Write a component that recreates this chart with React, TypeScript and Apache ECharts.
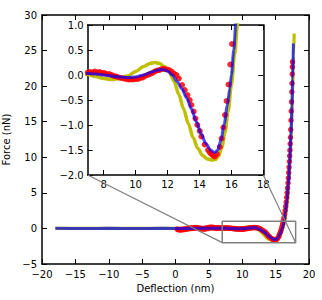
import React, { useEffect, useRef } from "react";
import * as echarts from "echarts";

// ---- data (x = deflection nm, y = force nN) ----
const fitBlue: number[][] = [
  [-18, 0.02], [-14, 0.0], [-10, 0.01], [-6, 0.0], [-2, 0.01], [2, 0.0], [5, 0.02], [7, 0.03],
  [7.5, 0.02], [8, 0.0], [8.5, -0.02], [9, -0.04], [9.5, -0.05], [10, -0.04], [10.5, 0.0],
  [11, 0.06], [11.4, 0.1], [11.7, 0.11], [12, 0.08], [12.3, 0.0], [12.6, -0.13], [12.9, -0.28],
  [13.2, -0.46], [13.5, -0.68], [13.8, -0.93], [14.1, -1.17], [14.4, -1.37], [14.7, -1.5],
  [14.95, -1.55], [15.15, -1.5], [15.35, -1.3], [15.55, -0.98], [15.75, -0.6], [15.9, -0.27],
  [16.0, 0.0], [16.15, 0.5], [16.28, 1.05], [16.45, 2.1], [16.7, 4.0], [16.9, 6.2], [17.1, 9.3],
  [17.3, 13.2], [17.45, 17.2], [17.55, 21.0], [17.66, 26.0],
];

const fitYellow: number[][] = [
  [-18, 0.02], [-14, 0.0], [-10, 0.01], [-6, 0.0], [-2, 0.01], [2, 0.0], [5, 0.0], [6, 0.01],
  [7, 0.01], [7.5, -0.03], [8, -0.07], [8.5, -0.09],
  [9, -0.07], [9.5, -0.02], [10, 0.07], [10.5, 0.17], [10.9, 0.23], [11.2, 0.25], [11.5, 0.23],
  [11.8, 0.17], [12.1, 0.07], [12.4, -0.12], [12.7, -0.38], [13.0, -0.67], [13.3, -0.97],
  [13.6, -1.25], [13.9, -1.47], [14.2, -1.61], [14.5, -1.68], [14.8, -1.7], [15.0, -1.69],
  [15.2, -1.62], [15.4, -1.45], [15.6, -1.15], [15.8, -0.72], [16.0, -0.2], [16.2, 0.4],
  [16.38, 1.0], [16.55, 1.9], [16.75, 3.7], [17.0, 6.9], [17.2, 10.4], [17.4, 15.0],
  [17.55, 19.6], [17.68, 24.3], [17.78, 27.4],
];

const measured: number[][] = [
  [0.25, -0.1], [0.4, -0.18], [0.55, -0.15], [0.7, -0.22], [0.85, -0.12], [1.0, -0.2], [1.15, -0.1],
  [1.3, -0.16], [1.45, -0.05], [1.6, -0.12], [1.75, 0.02], [1.9, -0.06], [2.05, 0.05], [2.2, -0.02],
  [2.35, 0.08], [2.5, 0.0], [2.65, 0.1], [2.8, 0.03], [2.95, 0.12], [3.1, 0.05], [3.25, 0.1],
  [3.4, 0.0], [3.55, 0.06], [3.7, -0.05], [3.85, 0.02], [4.0, -0.08], [4.15, 0.0], [4.3, -0.1],
  [4.45, 0.05], [4.6, -0.06], [4.75, 0.1], [4.9, 0.0], [5.05, 0.15], [5.2, 0.05], [5.35, 0.18],
  [5.5, 0.08], [5.65, 0.15], [5.8, 0.05], [5.95, 0.1], [6.1, 0.0], [6.25, 0.08], [6.4, 0.02],
  [6.55, 0.1], [6.7, 0.04], [6.85, 0.08], [7.0, 0.05],
  [7.15, 0.06], [7.3, 0.05], [7.45, 0.07], [7.6, 0.05], [7.75, 0.06], [7.9, 0.04], [8.05, 0.04],
  [8.2, 0.02], [8.35, 0.02], [8.5, 0.0], [8.65, -0.02], [8.8, -0.03], [8.95, -0.05], [9.1, -0.06],
  [9.25, -0.07], [9.4, -0.08], [9.55, -0.09], [9.7, -0.09], [9.85, -0.09], [10.0, -0.08],
  [10.15, -0.08], [10.3, -0.06], [10.45, -0.05], [10.6, -0.02], [10.75, 0.0], [10.9, 0.02],
  [11.05, 0.04], [11.2, 0.07], [11.35, 0.09], [11.5, 0.1], [11.65, 0.12], [11.8, 0.12],
  [11.95, 0.11], [12.1, 0.1], [12.25, 0.07], [12.4, 0.03],
  [12.56, 0.0], [12.71, -0.07], [12.91, -0.2], [13.08, -0.3], [13.25, -0.4], [13.39, -0.5],
  [13.5, -0.6], [13.64, -0.73], [13.75, -0.87], [13.87, -1.0], [14.02, -1.12], [14.12, -1.23],
  [14.33, -1.39], [14.54, -1.5], [14.65, -1.55], [14.75, -1.58], [14.85, -1.61], [14.96, -1.63],
  [15.1, -1.58], [15.27, -1.44], [15.39, -1.27], [15.5, -1.05], [15.6, -0.8], [15.7, -0.52],
  [15.82, -0.19], [15.93, 0.21], [16.04, 0.62],
  [16.14, 1.05], [16.24, 1.5], [16.33, 2.0], [16.42, 2.55], [16.5, 3.1], [16.58, 3.7],
  [16.65, 4.35], [16.72, 5.0], [16.79, 5.7], [16.85, 6.4], [16.91, 7.1], [16.96, 7.85],
  [17.01, 8.6], [17.06, 9.4], [17.1, 10.2], [17.14, 11.0], [17.18, 11.9], [17.22, 12.8],
  [17.26, 13.9], [17.3, 15.2], [17.34, 16.5], [17.38, 17.8], [17.42, 19.2], [17.45, 20.4],
  [17.48, 21.7], [17.5, 22.7], [17.53, 23.4],
];

// zoom window (main-plot coordinates shown in the inset)
const zoomX: number[] = [7, 18];
const zoomY: number[] = [-2, 1];
const insetXTicks: number[] = [8, 10, 12, 14, 16, 18];

const FONT = "DejaVu Sans";
const minus = (s: string) => s.replace("-", "\u2212");

export default function App() {
  const ref = useRef<HTMLDivElement>(null);
  useEffect(() => {
    if (!ref.current) return;
    const chart = echarts.init(ref.current, null, { renderer: "svg" });
    const tick = { show: true, inside: true, length: 5, lineStyle: { color: "#000", width: 1 } };
    const frame = { show: true, onZero: false, lineStyle: { color: "#000", width: 1.5 } };
    const lbl = { color: "#000", fontFamily: FONT, fontSize: 10 };
    const rectData = [
      [zoomX[0], zoomY[0]], [zoomX[1], zoomY[0]], [zoomX[1], zoomY[1]],
      [zoomX[0], zoomY[1]], [zoomX[0], zoomY[0]],
    ];
    const option: any = {
      animation: false,
      textStyle: { fontFamily: FONT },
      grid: [
        { left: 42, top: 15, width: 267, height: 249, containLabel: false, outerBoundsMode: "none" },
        {
          left: 87.7, top: 25, width: 175.6, height: 150, containLabel: false, outerBoundsMode: "none",
          show: true, backgroundColor: "#fff", borderWidth: 0, z: 5,
        },
      ],
      xAxis: [
        {
          type: "value", gridIndex: 0, min: -20, max: 20, interval: 5, position: "bottom",
          axisLine: frame, axisTick: tick, splitLine: { show: false },
          axisLabel: { ...lbl, margin: 5, formatter: (v: number) => minus(String(v)) },
          name: "Deflection (nm)", nameLocation: "middle", nameGap: 18,
          nameTextStyle: { color: "#000", fontFamily: FONT, fontSize: 10 },
        },
        {
          type: "value", gridIndex: 0, min: -20, max: 20, interval: 5, position: "top",
          axisLine: frame, axisTick: tick, splitLine: { show: false }, axisLabel: { show: false },
        },
        {
          type: "value", gridIndex: 1, min: zoomX[0], max: zoomX[1], position: "bottom", z: 6,
          axisLine: frame, axisTick: { ...tick, customValues: insetXTicks }, splitLine: { show: false },
          axisLabel: { ...lbl, margin: 4, customValues: insetXTicks, formatter: (v: number) => String(v) },
        },
        {
          type: "value", gridIndex: 1, min: zoomX[0], max: zoomX[1], position: "top", z: 6,
          axisLine: frame, axisTick: { ...tick, customValues: insetXTicks }, splitLine: { show: false },
          axisLabel: { show: false, customValues: insetXTicks },
        },
      ],
      yAxis: [
        {
          type: "value", gridIndex: 0, min: -5, max: 30, interval: 5, position: "left",
          axisLine: frame, axisTick: tick, splitLine: { show: false },
          axisLabel: { ...lbl, margin: 5, formatter: (v: number) => minus(String(v)) },
          name: "Force (nN)", nameLocation: "middle", nameGap: 21, nameRotate: 90,
          nameTextStyle: { color: "#000", fontFamily: FONT, fontSize: 10 },
        },
        {
          type: "value", gridIndex: 0, min: -5, max: 30, interval: 5, position: "right",
          axisLine: frame, axisTick: tick, splitLine: { show: false }, axisLabel: { show: false },
        },
        {
          type: "value", gridIndex: 1, min: zoomY[0], max: zoomY[1], interval: 0.5, position: "left", z: 6,
          axisLine: frame, axisTick: tick, splitLine: { show: false },
          axisLabel: { ...lbl, margin: 4, formatter: (v: number) => minus(v.toFixed(1)) },
        },
        {
          type: "value", gridIndex: 1, min: zoomY[0], max: zoomY[1], interval: 0.5, position: "right", z: 6,
          axisLine: frame, axisTick: tick, splitLine: { show: false }, axisLabel: { show: false },
        },
      ],
      series: [
        // main plot
        {
          type: "line", xAxisIndex: 0, yAxisIndex: 0, data: fitYellow, showSymbol: false, z: 2,
          smooth: 0.3, smoothMonotone: "x",
          lineStyle: { color: "#bfbf00", width: 3.2 },
        },
        {
          type: "scatter", xAxisIndex: 0, yAxisIndex: 0, data: measured, symbolSize: 5.5, z: 3,
          itemStyle: { color: "#ff0000", opacity: 0.85 },
        },
        {
          type: "line", xAxisIndex: 0, yAxisIndex: 0, data: fitBlue, showSymbol: false, z: 4,
          smooth: 0.3, smoothMonotone: "x",
          lineStyle: { color: "#0000ff", width: 3, opacity: 0.7 },
        },
        {
          type: "line", xAxisIndex: 0, yAxisIndex: 0, data: rectData, showSymbol: false, z: 5,
          lineStyle: { color: "#808080", width: 1.5 },
        },
        // inset
        {
          type: "line", xAxisIndex: 2, yAxisIndex: 2, data: fitYellow, showSymbol: false, z: 7,
          smooth: 0.3, smoothMonotone: "x", clip: true,
          lineStyle: { color: "#bfbf00", width: 3.5 },
        },
        {
          type: "scatter", xAxisIndex: 2, yAxisIndex: 2, data: measured, symbolSize: 6, z: 8, clip: true,
          itemStyle: { color: "#ff0000", opacity: 0.85 },
        },
        {
          type: "line", xAxisIndex: 2, yAxisIndex: 2, data: fitBlue, showSymbol: false, z: 9,
          smooth: 0.3, smoothMonotone: "x", clip: true,
          lineStyle: { color: "#0000ff", width: 3, opacity: 0.7 },
        },
      ],
    };
    chart.setOption(option);

    const ins = { xAxisIndex: 2, yAxisIndex: 2 } as any;
    const mn = { xAxisIndex: 0, yAxisIndex: 0 } as any;
    const a1 = chart.convertToPixel(ins, [zoomX[0], zoomY[0]]) as number[];
    const b1 = chart.convertToPixel(mn, [zoomX[0], zoomY[0]]) as number[];
    const a2 = chart.convertToPixel(ins, [zoomX[1], zoomY[0]]) as number[];
    const b2 = chart.convertToPixel(mn, [zoomX[1], zoomY[0]]) as number[];
    if (a1 && b1 && a2 && b2) {
      chart.setOption({
        graphic: [
          {
            type: "line", z: 100, silent: true,
            shape: { x1: a1[0], y1: a1[1], x2: b1[0], y2: b1[1] },
            style: { stroke: "#808080", lineWidth: 1.2 },
          },
          {
            type: "line", z: 100, silent: true,
            shape: { x1: a2[0], y1: a2[1], x2: b2[0], y2: b2[1] },
            style: { stroke: "#808080", lineWidth: 1.2 },
          },
        ],
      });
    }
    return () => chart.dispose();
  }, []);
  return (
    <div
      ref={ref}
      style={{ position: "fixed", left: 0, top: 0, width: 322, height: 300, background: "#fff" }}
    />
  );
}
